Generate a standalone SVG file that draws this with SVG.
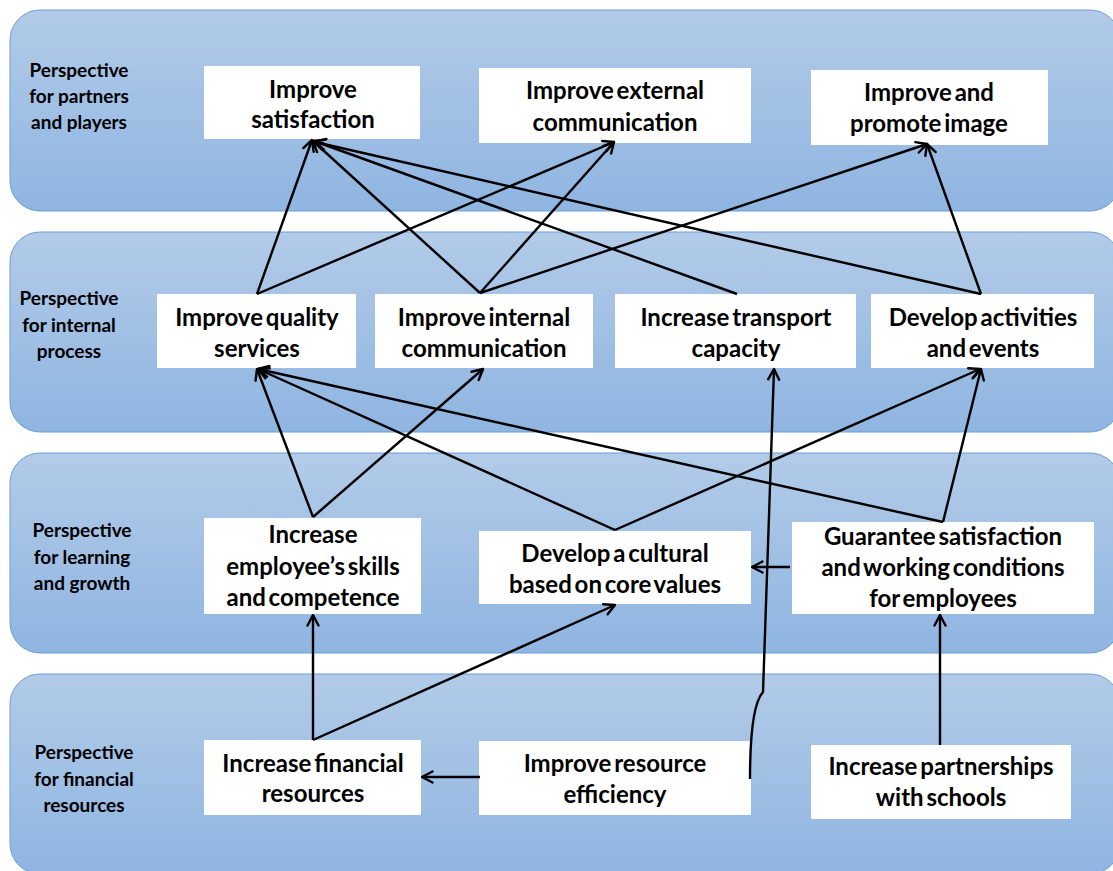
<svg xmlns="http://www.w3.org/2000/svg" width="1113" height="871" viewBox="0 0 1113 871">
<defs>
<linearGradient id="bandGrad" x1="0" y1="0" x2="0" y2="1">
<stop offset="0" stop-color="#b2cbe8"/>
<stop offset="1" stop-color="#8fb5e1"/>
</linearGradient>
<marker id="arr" viewBox="0 0 14 14" markerWidth="14" markerHeight="14" refX="12.5" refY="7" orient="auto" markerUnits="userSpaceOnUse">
<path d="M2,1.5 L12.5,7 L2,12.5" fill="none" stroke="#000" stroke-width="2.4" stroke-linecap="round" stroke-linejoin="round"/>
</marker>
<style>
.band{fill:url(#bandGrad);stroke:#6a9fd8;stroke-width:1}
.box{fill:#fff}
.lbl{font-family:Lato,"Liberation Sans",sans-serif;font-weight:bold;font-size:19px;fill:#000;text-anchor:middle}
.nt{font-family:Lato,"Liberation Sans",sans-serif;font-weight:bold;font-size:24px;fill:#000;text-anchor:middle;word-spacing:-3px}
.c{fill:none;stroke:#000;stroke-width:2.4;marker-end:url(#arr)}
</style>
</defs>

<g id="bands">
<rect class="band" x="10" y="10" width="1110" height="201" rx="30" ry="30"/>
<rect class="band" x="10" y="232" width="1110" height="200" rx="30" ry="30"/>
<rect class="band" x="10" y="453" width="1110" height="200" rx="30" ry="30"/>
<rect class="band" x="10" y="674" width="1110" height="200" rx="30" ry="30"/>
</g>

<g id="band-labels">
<text class="lbl" x="79" y="77">Perspective</text>
<text class="lbl" x="79" y="103">for partners</text>
<text class="lbl" x="79" y="129">and players</text>
<text class="lbl" x="69" y="305">Perspective</text>
<text class="lbl" x="69" y="332">for internal</text>
<text class="lbl" x="69" y="358">process</text>
<text class="lbl" x="82" y="537">Perspective</text>
<text class="lbl" x="82" y="564">for learning</text>
<text class="lbl" x="82" y="590">and growth</text>
<text class="lbl" x="84" y="759">Perspective</text>
<text class="lbl" x="84" y="786">for financial</text>
<text class="lbl" x="84" y="812">resources</text>
</g>

<g id="n-satisfaction"><rect class="box" x="204" y="66" width="216" height="73"/>
<text class="nt" x="313" y="98">Improve</text><text class="nt" x="313" y="128">satisfaction</text></g>
<g id="n-external"><rect class="box" x="479" y="68" width="272" height="75"/>
<text class="nt" x="615" y="99">Improve external</text><text class="nt" x="615" y="131">communication</text></g>
<g id="n-image"><rect class="box" x="811" y="70" width="237" height="75"/>
<text class="nt" x="929" y="101">Improve and</text><text class="nt" x="929" y="132">promote image</text></g>

<g id="n-quality"><rect class="box" x="157" y="294" width="199" height="74"/>
<text class="nt" x="257" y="326">Improve quality</text><text class="nt" x="257" y="357">services</text></g>
<g id="n-internal"><rect class="box" x="375" y="294" width="218" height="74"/>
<text class="nt" x="484" y="326">Improve internal</text><text class="nt" x="484" y="357">communication</text></g>
<g id="n-transport"><rect class="box" x="615" y="294" width="241" height="74"/>
<text class="nt" x="736" y="326">Increase transport</text><text class="nt" x="736" y="357">capacity</text></g>
<g id="n-activities"><rect class="box" x="871" y="294" width="223" height="74"/>
<text class="nt" x="983" y="326">Develop activities</text><text class="nt" x="983" y="357">and events</text></g>

<g id="n-skills"><rect class="box" x="204" y="518" width="217" height="96"/>
<text class="nt" x="313" y="543">Increase</text><text class="nt" x="313" y="575">employee’s skills</text><text class="nt" x="313" y="606">and competence</text></g>
<g id="n-cultural"><rect class="box" x="479" y="531" width="272" height="73"/>
<text class="nt" x="615" y="562">Develop a cultural</text><text class="nt" x="615" y="593">based on core values</text></g>
<g id="n-guarantee"><rect class="box" x="792" y="522" width="302" height="92"/>
<text class="nt" x="943" y="545">Guarantee satisfaction</text><text class="nt" x="943" y="576">and working conditions</text><text class="nt" x="943" y="607">for employees</text></g>

<g id="n-financial"><rect class="box" x="204" y="740" width="217" height="75"/>
<text class="nt" x="313" y="772">Increase financial</text><text class="nt" x="313" y="802">resources</text></g>
<g id="n-efficiency"><rect class="box" x="479" y="741" width="272" height="74"/>
<text class="nt" x="615" y="772">Improve resource</text><text class="nt" x="615" y="803">efficiency</text></g>
<g id="n-partnerships"><rect class="box" x="811" y="745" width="260" height="74"/>
<text class="nt" x="941" y="775">Increase partnerships</text><text class="nt" x="941" y="806">with schools</text></g>

<g id="connectors">
<line class="c" x1="257" y1="294" x2="312" y2="140"/>
<line class="c" x1="257" y1="294" x2="614" y2="142"/>
<line class="c" x1="480" y1="293" x2="313" y2="141"/>
<line class="c" x1="480" y1="293" x2="614" y2="142"/>
<line class="c" x1="480" y1="293" x2="927" y2="144"/>
<line class="c" x1="737" y1="294" x2="314" y2="141"/>
<line class="c" x1="981" y1="294" x2="315" y2="142"/>
<line class="c" x1="981" y1="294" x2="927" y2="144"/>

<line class="c" x1="313" y1="517" x2="257" y2="369"/>
<line class="c" x1="313" y1="517" x2="483" y2="369"/>
<line class="c" x1="615" y1="530" x2="258" y2="369"/>
<line class="c" x1="615" y1="530" x2="980" y2="369"/>
<line class="c" x1="943" y1="522" x2="258" y2="369"/>
<line class="c" x1="943" y1="522" x2="981" y2="369"/>
<line class="c" x1="790" y1="567" x2="752" y2="567"/>

<line class="c" x1="313" y1="740" x2="313" y2="615"/>
<line class="c" x1="313" y1="740" x2="615" y2="605"/>
<line class="c" x1="480" y1="777" x2="422" y2="777"/>
<path class="c" d="M750,779 C750,735 753,703 763,692 L774,369"/>
<line class="c" x1="940" y1="745" x2="940" y2="615"/>
</g>
</svg>
